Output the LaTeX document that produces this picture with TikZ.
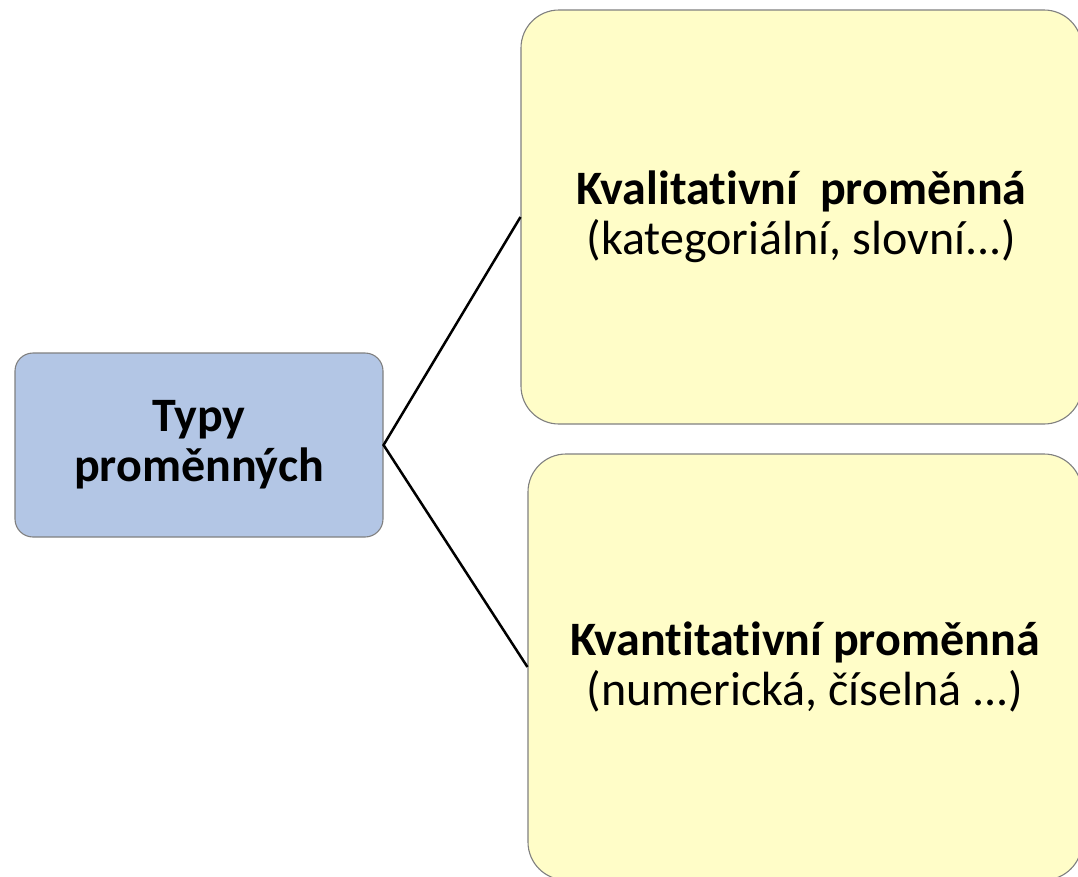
\documentclass[tikz,border=0pt]{standalone}
\usepackage{fontspec}
\setmainfont{Carlito}[Ligatures={NoCommon}]
\definecolor{bluefill}{HTML}{B3C6E5}
\definecolor{yellowfill}{HTML}{FFFDC8}
\definecolor{edgegray}{HTML}{808080}
\begin{document}
\begin{tikzpicture}[x=1pt,y=-1pt,
  boxbase/.style={draw=edgegray,line width=1.1pt,align=center,inner sep=0pt,
    font=\fontsize{48}{50}\selectfont},
  mainbox/.style={boxbase,fill=bluefill,rounded corners=18pt,minimum width=368pt,minimum height=184pt},
  subbox/.style={boxbase,fill=yellowfill,rounded corners=38pt},
  link/.style={draw=black,line width=2.5pt}]
\useasboundingbox (0,0) rectangle (1078,876);
\clip (0,0) rectangle (1078,876);
\node[mainbox] (root) at (199,445) {\textbf{Typy}\\\textbf{proměnných}};
\node[subbox,minimum width=561pt,minimum height=414pt] (qual) at (801.5,217)
  {\textbf{Kvalitativní\ \ proměnná}\\(kategoriální, slovní...)};
\node[subbox,minimum width=554pt,minimum height=426pt] (quant) at (805,667)
  {\textbf{Kvantitativní proměnná}\\(numerická, číselná ...)};
\draw[link] (qual.west) -- (root.east) -- (quant.west);
\end{tikzpicture}
\end{document}
